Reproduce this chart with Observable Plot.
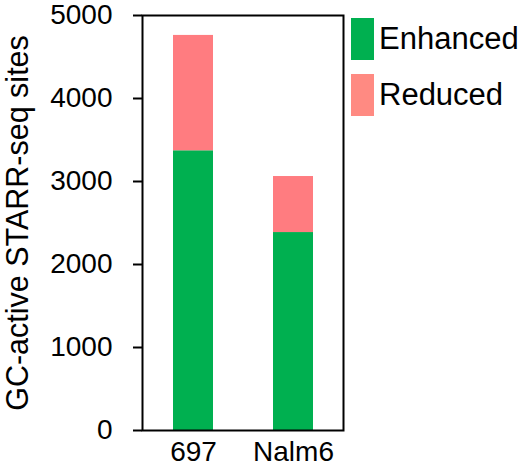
<!DOCTYPE html>
<html>
<head>
<meta charset="utf-8">
<script src="https://cdn.jsdelivr.net/npm/d3@7"></script>
<script src="https://cdn.jsdelivr.net/npm/@observablehq/plot@0.6"></script>
<style>
  html, body { margin: 0; padding: 0; background: #fff; }
  #wrap { position: relative; width: 520px; height: 468px; font-family: "Liberation Sans", Arial, sans-serif; }
  #legend { position: absolute; left: 351px; top: 11px; }
  .item { display: flex; align-items: center; height: 56px; }
  .sw { width: 23px; height: 42px; margin-right: 5px; }
  .lab { font-size: 31px; color: #000; }
</style>
</head>
<body>
<div id="wrap"></div>
<script>
const categories = ["697", "Nalm6"];
const series = ["Enhanced", "Reduced"];
const enhanced = [3370, 2385];
const reduced = [1390, 675];
const colors = ["#00B050", "#FF7C80"];
const yTicks = [0, 1000, 2000, 3000, 4000, 5000];

const data = [];
categories.forEach((c, i) => {
  data.push({cell: c, type: series[0], value: enhanced[i]});
  data.push({cell: c, type: series[1], value: reduced[i]});
});

const plot = Plot.plot({
  width: 520,
  height: 468,
  marginLeft: 142,
  marginRight: 177,
  marginTop: 15,
  marginBottom: 38,
  style: {fontFamily: '"Liberation Sans", Arial, sans-serif', fontSize: "28px", color: "#000", background: "#fff", overflow: "visible"},
  x: {domain: categories, paddingInner: 0.6, paddingOuter: 0.305},
  y: {domain: [0, 5000]},
  color: {domain: series, range: colors},
  marks: [
    Plot.barY(data, Plot.stackY({x: "cell", y: "value", fill: "type", order: series})),
    Plot.frame({stroke: "#000", strokeWidth: 2}),
    Plot.axisY({ticks: yTicks, tickSize: 9, tickPadding: 21, tickFormat: d => String(d), stroke: "#000", strokeWidth: 2,
      label: "GC-active STARR-seq sites", labelAnchor: "center", labelOffset: 136, labelArrow: "none", fontSize: 28}),
    Plot.axisX({tickSize: 0, tickPadding: 11, label: null, fontSize: 28})
  ]
});
plot.style.position = "absolute";
plot.style.left = "0px";
plot.style.top = "0px";
plot.querySelectorAll("[aria-label='y-axis label'] text, g[aria-label='y-axis label']").forEach(el => el.setAttribute("font-size", "30.5"));
const wrap = document.getElementById("wrap");
wrap.appendChild(plot);

const legend = document.createElement("div");
legend.id = "legend";
series.forEach((s, i) => {
  const it = document.createElement("div");
  it.className = "item";
  const sw = document.createElement("div");
  sw.className = "sw";
  sw.style.background = i === 1 ? "#FF8A82" : colors[i];
  const lab = document.createElement("span");
  lab.className = "lab";
  lab.textContent = s;
  it.appendChild(sw);
  it.appendChild(lab);
  legend.appendChild(it);
});
wrap.appendChild(legend);
</script>
</body>
</html>
